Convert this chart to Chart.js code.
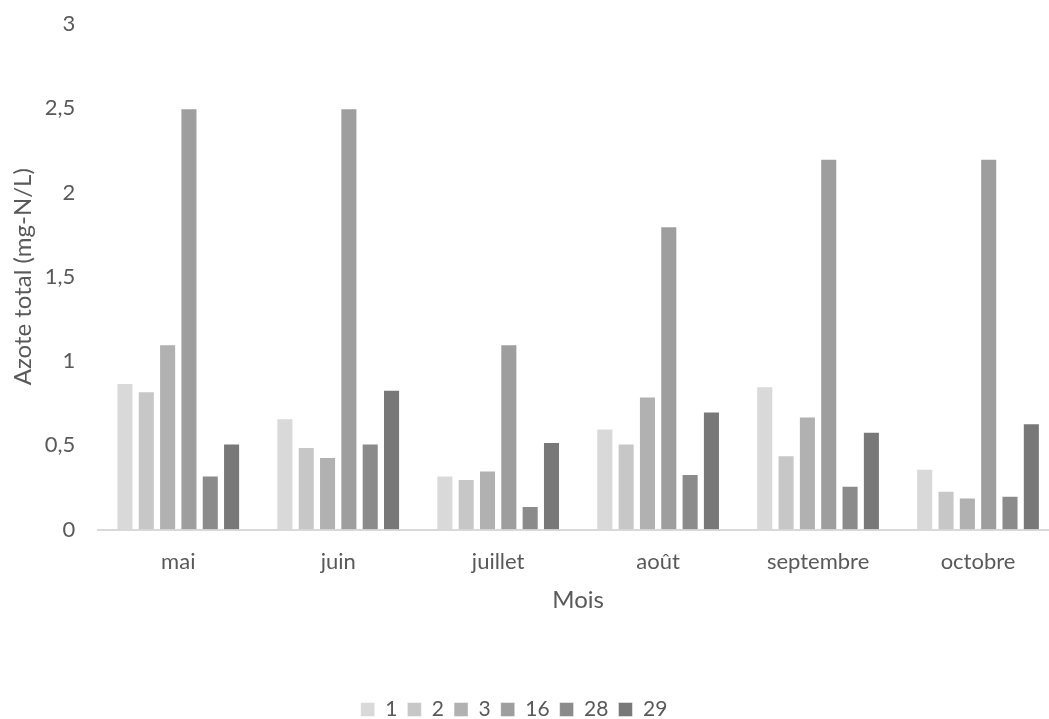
<!DOCTYPE html>
<html>
<head>
<meta charset="utf-8">
<script src="https://cdn.jsdelivr.net/npm/chart.js@4"></script>
<style>
  html, body { margin: 0; padding: 0; background: #ffffff; overflow: hidden; width: 1049px; height: 719px; }
  #wrap { position: absolute; left: -30px; top: 0; width: 1088px; height: 730px; }
</style>
</head>
<body>
<div id="wrap"><canvas id="chart"></canvas></div>
<script>
// Azote total par station et par mois
const months = ['mai', 'juin', 'juillet', 'août', 'septembre', 'octobre'];
const stations = ['1', '2', '3', '16', '28', '29'];
const st1  = [0.87, 0.66, 0.32, 0.60, 0.85, 0.36];
const st2  = [0.82, 0.49, 0.30, 0.51, 0.44, 0.23];
const st3  = [1.10, 0.43, 0.35, 0.79, 0.67, 0.19];
const st16 = [2.50, 2.50, 1.10, 1.80, 2.20, 2.20];
const st28 = [0.32, 0.51, 0.14, 0.33, 0.26, 0.20];
const st29 = [0.51, 0.83, 0.52, 0.70, 0.58, 0.63];
const yTickLabels = ['0', '0,5', '1', '1,5', '2', '2,5', '3'];

const series = [st1, st2, st3, st16, st28, st29];
const greys = ['#d9d9d9', '#c7c7c7', '#b1b1b1', '#9e9e9e', '#8b8b8b', '#787878'];
const textColor = '#595959';
const fontFamily = 'Lato, "Open Sans", sans-serif';

const datasets = series.map((values, i) => ({
  label: stations[i],
  data: values,
  backgroundColor: greys[i],
  borderColor: 'rgba(255,255,255,0.45)',
  borderWidth: 1,
  categoryPercentage: 0.8,
  barPercentage: 0.8
}));

new Chart(document.getElementById('chart'), {
  type: 'bar',
  data: { labels: months, datasets: datasets },
  options: {
    responsive: true,
    maintainAspectRatio: false,
    animation: false,
    devicePixelRatio: 1,
    layout: { padding: { top: 24, left: 0, right: 0, bottom: 0 } },
    plugins: {
      tooltip: { enabled: false },
      legend: {
        position: 'bottom',
        labels: {
          color: textColor,
          font: { family: fontFamily, size: 21 },
          boxWidth: 14,
          boxHeight: 14,
          padding: 10
        }
      }
    },
    scales: {
      x: {
        grid: { display: false, drawTicks: false },
        border: { display: true, color: '#d9d9d9', width: 2 },
        ticks: {
          color: textColor,
          font: { family: fontFamily, size: 22 },
          padding: 19,
          maxRotation: 0
        },
        title: {
          display: true,
          text: 'Mois',
          color: textColor,
          font: { family: fontFamily, size: 24 },
          padding: { top: 0, bottom: 74 }
        },
        afterFit: (scale) => {
          scale.height = 159.5;
          scale.paddingLeft = 0;
          scale.paddingRight = 0;
        }
      },
      y: {
        min: 0,
        max: 3,
        grid: { display: false, drawTicks: false },
        border: { display: false },
        ticks: {
          stepSize: 0.5,
          color: textColor,
          font: { family: fontFamily, size: 22 },
          padding: 23,
          callback: (value, index) => yTickLabels[index]
        },
        title: {
          display: true,
          text: 'Azote total (mg-N/L)',
          color: textColor,
          font: { family: fontFamily, size: 24 },
          padding: { top: 38.6, bottom: 0 }
        },
        afterFit: (scale) => {
          scale.width = 128.3;
          scale.paddingTop = 0;
          scale.paddingBottom = 0;
        }
      }
    }
  }
});
</script>
</body>
</html>
